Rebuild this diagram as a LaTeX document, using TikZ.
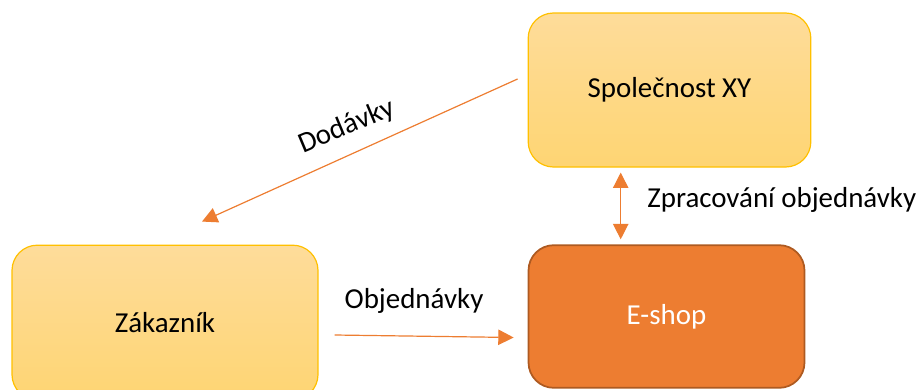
\documentclass[tikz,border=0pt]{standalone}
\usepackage{fontspec}
\setmainfont{Carlito}
\usetikzlibrary{arrows.meta,calc}
\definecolor{acc}{HTML}{ED7D31}
\definecolor{accd}{HTML}{AE5A21}
\definecolor{gold}{HTML}{FFC000}
\definecolor{ytop}{HTML}{FEDC9A}
\definecolor{ybot}{HTML}{FED573}
\begin{document}
\begin{tikzpicture}[x=0.75pt,y=-0.75pt,
  font=\fontsize{21.7}{25}\selectfont,
  ybox/.style={rectangle,rounded corners=19pt,draw=gold,line width=0.9pt,top color=ytop,bottom color=ybot,inner sep=0pt},
  obox/.style={rectangle,rounded corners=19pt,draw=accd,line width=1.3pt,fill=acc,text=white,inner sep=0pt},
  conn/.style={draw=acc,line width=0.9pt,-{Triangle[length=11.5pt,width=11.5pt]}},
  dconn/.style={draw=acc,line width=0.9pt,{Triangle[length=11.5pt,width=11.5pt]}-{Triangle[length=11.5pt,width=11.5pt]}},
  lbl/.style={inner sep=0pt}]
\useasboundingbox (0,0) rectangle (924,389);
\clip (0,0) rectangle (924,389);
\node[ybox,minimum width=212pt,minimum height=115.5pt] (spol) at (669.5,90) {Společnost XY};
\node[ybox,minimum width=229.5pt,minimum height=116pt] (zak) at (165,322.5) {Zákazník};
\node[obox,minimum width=207pt,minimum height=107pt] (eshop) at (666.5,316.5) {E-shop};
\coordinate (d1) at ($(spol.west)+(-10,-11)$);
\coordinate (d2) at ($(zak.north)+(37,-23)$);
\draw[conn] (d1) -- (d2);
\node[lbl,rotate=22.7] (ldod) at (347,127) {Dodávky};
\coordinate (z1) at ($(spol.south)+(-48.8,5)$);
\coordinate (z2) at ($(eshop.north)+(-45.8,-5)$);
\draw[dconn] (z1) -- (z2);
\node[lbl,anchor=west] (lzpr) at (647,200) {Zpracování objednávky};
\coordinate (o1) at ($(zak.east)+(16,12.5)$);
\coordinate (o2) at ($(eshop.west)+(-14,21)$);
\draw[conn] (o1) -- (o2);
\node[lbl] (lobj) at (414,301) {Objednávky};
\end{tikzpicture}
\end{document}
